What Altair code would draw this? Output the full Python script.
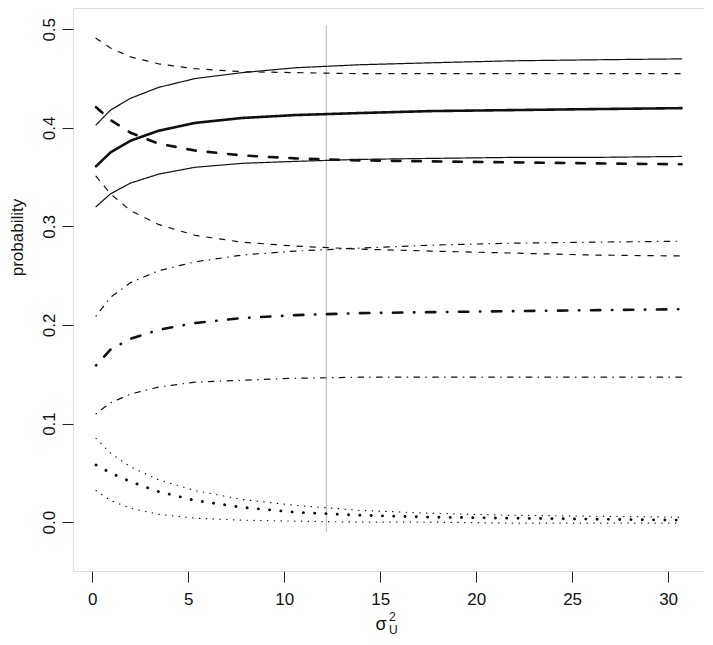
import altair as alt
import pandas as pd

# ---- data ----
x_vals = [0.2, 0.95, 2.0, 3.45, 5.35, 7.8, 10.6, 13.9, 17.6, 21.8, 26.0, 30.7]

solid_upper = [0.403, 0.418, 0.430, 0.441, 0.450, 0.456, 0.461, 0.464, 0.466, 0.468, 0.469, 0.470]
solid_mid = [0.361, 0.375, 0.387, 0.397, 0.405, 0.410, 0.413, 0.415, 0.417, 0.418, 0.419, 0.420]
solid_lower = [0.320, 0.333, 0.344, 0.353, 0.360, 0.364, 0.366, 0.368, 0.369, 0.370, 0.370, 0.371]

dashed_upper = [0.491, 0.481, 0.472, 0.465, 0.460, 0.457, 0.456, 0.455, 0.455, 0.455, 0.455, 0.455]
dashed_mid = [0.421, 0.408, 0.395, 0.384, 0.377, 0.372, 0.369, 0.367, 0.366, 0.365, 0.364, 0.363]
dashed_lower = [0.351, 0.333, 0.316, 0.302, 0.291, 0.284, 0.280, 0.277, 0.275, 0.273, 0.271, 0.270]

dashdot_upper = [0.209, 0.228, 0.243, 0.255, 0.264, 0.271, 0.275, 0.278, 0.281, 0.283, 0.284, 0.285]
dashdot_mid = [0.159, 0.175, 0.186, 0.195, 0.202, 0.207, 0.210, 0.212, 0.213, 0.214, 0.215, 0.216]
dashdot_lower = [0.110, 0.121, 0.130, 0.137, 0.142, 0.144, 0.146, 0.147, 0.147, 0.147, 0.147, 0.147]

dotted_upper = [0.085, 0.070, 0.056, 0.043, 0.032, 0.023, 0.017, 0.012, 0.009, 0.007, 0.006, 0.005]
dotted_mid = [0.058, 0.050, 0.041, 0.031, 0.022, 0.015, 0.010, 0.007, 0.005, 0.004, 0.003, 0.002]
dotted_lower = [0.032, 0.022, 0.014, 0.008, 0.004, 0.002, 0.001, 0.000, 0.000, -0.001, -0.001, -0.001]

ref_x = [12.2]
ref_y_from = [-0.01]
ref_y_to = [0.504]

x_ticks = [0, 5, 10, 15, 20, 25, 30]
y_ticks = [0.0, 0.1, 0.2, 0.3, 0.4, 0.5]

# ---- styles ----
THIN = 1.2
THICK = 2.6
styles = {
    "solid_thin": dict(width=THIN, dash=[1, 0]),
    "solid_thick": dict(width=THICK, dash=[1, 0]),
    "dashed_thin": dict(width=THIN, dash=[5.3, 7.7]),
    "dashed_thick": dict(width=THICK, dash=[8.5, 12.0]),
    "dashdot_thin": dict(width=THIN, dash=[0.5, 6.3, 5.6, 6.3]),
    "dashdot_thick": dict(width=THICK, dash=[0.4, 11.6, 9.4, 11.6]),
    "dotted_thin": dict(width=THIN, dash=[0.4, 6.4]),
    "dotted_thick": dict(width=2.9, dash=[0.1, 11.2]),
}

series = [
    ("solid_upper", solid_upper, "solid_thin"),
    ("solid_mid", solid_mid, "solid_thick"),
    ("solid_lower", solid_lower, "solid_thin"),
    ("dashed_upper", dashed_upper, "dashed_thin"),
    ("dashed_mid", dashed_mid, "dashed_thick"),
    ("dashed_lower", dashed_lower, "dashed_thin"),
    ("dashdot_upper", dashdot_upper, "dashdot_thin"),
    ("dashdot_mid", dashdot_mid, "dashdot_thick"),
    ("dashdot_lower", dashdot_lower, "dashdot_thin"),
    ("dotted_upper", dotted_upper, "dotted_thin"),
    ("dotted_mid", dotted_mid, "dotted_thick"),
    ("dotted_lower", dotted_lower, "dotted_thin"),
]

FONT = "Liberation Sans"
FS = 17

x_scale = alt.Scale(domain=[-1.0, 31.87], nice=False, zero=False)
y_scale = alt.Scale(domain=[-0.0496, 0.5216], nice=False, zero=False)

x_axis = alt.Axis(
    values=x_ticks, title=None, grid=False, domain=False,
    tickSize=11, tickColor="#222", tickWidth=1,
    labelFontSize=FS, labelFont=FONT, labelColor="#111",
    labelBaseline="alphabetic", labelPadding=22, labelFlush=False,
    labelOverlap=False,
)
y_axis = alt.Axis(
    values=y_ticks, format=".1f", grid=False, domain=False,
    tickSize=11, tickColor="#222", tickWidth=1,
    labelFontSize=FS, labelFont=FONT, labelColor="#111",
    labelAngle=270, labelAlign="center", labelBaseline="alphabetic",
    labelPadding=8, labelFlush=False, labelOverlap=False,
    title="probability", titleFont=FONT, titleFontSize=FS,
    titleFontWeight="normal", titleColor="#111",
    titleAngle=270, titleAlign="center", titleBaseline="alphabetic",
    titleX=-51, titleY=229,
)

layers = []

ref_df = pd.DataFrame({"x": ref_x, "y": ref_y_from, "y2": ref_y_to})
layers.append(
    alt.Chart(ref_df).mark_rule(color="#c4c4c4", strokeWidth=1.3).encode(
        x=alt.X("x:Q", scale=x_scale, axis=x_axis),
        y=alt.Y("y:Q", scale=y_scale, axis=y_axis),
        y2="y2:Q",
    )
)

for name, vals, style in series:
    st = styles[style]
    df = pd.DataFrame({"x": x_vals, "y": vals})
    layers.append(
        alt.Chart(df).mark_line(
            color="#111", strokeWidth=st["width"], strokeDash=st["dash"],
            strokeCap="round", strokeJoin="round",
        ).encode(
            x=alt.X("x:Q", scale=x_scale, axis=x_axis),
            y=alt.Y("y:Q", scale=y_scale, axis=y_axis),
        )
    )

# x axis title: sigma with superscript 2 and subscript U
one = pd.DataFrame({"t": [0]})
layers.append(
    alt.Chart(one).mark_text(text="σ", font=FONT, fontSize=18, color="#111",
                             align="center", baseline="alphabetic").encode(
        x=alt.value(308), y=alt.value(622))
)
layers.append(
    alt.Chart(one).mark_text(text="2", font=FONT, fontSize=12, color="#111",
                             align="left", baseline="alphabetic").encode(
        x=alt.value(316), y=alt.value(613))
)
layers.append(
    alt.Chart(one).mark_text(text="U", font=FONT, fontSize=12, color="#111",
                             align="left", baseline="alphabetic").encode(
        x=alt.value(316), y=alt.value(626))
)

chart = alt.layer(*layers).properties(
    width=631, height=563,
    autosize=alt.AutoSizeParams(type="none"),
    padding={"left": 65, "top": 0, "right": 0, "bottom": 66},
).configure_view(
    stroke="#222", strokeWidth=1, fill="white"
).configure(background="white")

chart.save("out.html", embed_options={"renderer": "svg", "actions": False})
